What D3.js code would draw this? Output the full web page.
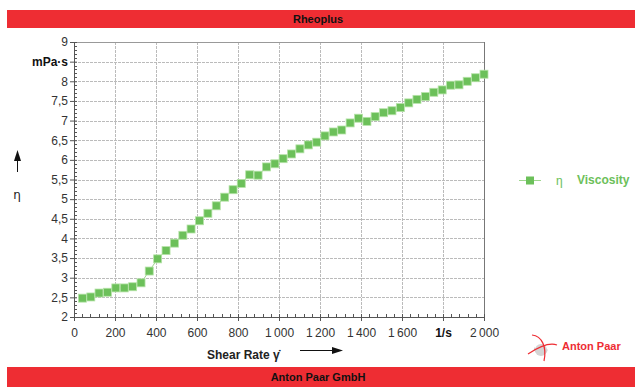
<!DOCTYPE html>
<html>
<head>
<meta charset="utf-8">
<script src="https://cdn.jsdelivr.net/npm/d3@7"></script>
<style>
  body { margin: 0; background: #fff; }
  svg { font-family: "Liberation Sans", Arial, sans-serif; }
</style>
</head>
<body>
<script>
// shear rate [1/s]
var shearRate = [41, 82, 122, 163, 204, 245, 286, 327, 367, 408, 449, 490, 531, 571, 612, 653,
  694, 735, 776, 816, 857, 898, 939, 980, 1020, 1061, 1102, 1143, 1184, 1224, 1265, 1306,
  1347, 1388, 1429, 1469, 1510, 1551, 1592, 1633, 1673, 1714, 1755, 1796, 1837, 1878, 1918, 1959, 2000];
// viscosity [mPa·s]
var viscosity = [2.48, 2.51, 2.61, 2.63, 2.74, 2.74, 2.77, 2.87, 3.17, 3.48, 3.69, 3.88, 4.08, 4.24,
  4.45, 4.64, 4.83, 5.05, 5.24, 5.40, 5.62, 5.61, 5.82, 5.90, 6.03, 6.15, 6.28, 6.38, 6.45, 6.61, 6.71,
  6.76, 6.94, 7.06, 6.98, 7.10, 7.20, 7.25, 7.33, 7.45, 7.54, 7.61, 7.72, 7.78, 7.90, 7.91, 8.00, 8.09, 8.18];

var xTicks = [0, 200, 400, 600, 800, 1000, 1200, 1400, 1600, 1800, 2000];
var yTicks = [2, 2.5, 3, 3.5, 4, 4.5, 5, 5.5, 6, 6.5, 7, 7.5, 8, 8.5, 9];
var xUnitAt = 1800, yUnitAt = 8.5;

var W = 635, H = 387;
var red = "#ee2d33", green = "#6cc05a";

var svg = d3.select("body").append("svg").attr("width", W).attr("height", H);

// header / footer bars
svg.append("rect").attr("x", 7).attr("y", 10).attr("width", W - 7).attr("height", 18).attr("fill", red);
svg.append("text").attr("x", 318).attr("y", 23).attr("text-anchor", "middle")
   .attr("font-size", 11).attr("font-weight", "bold").attr("fill", "#111").text("Rheoplus");
svg.append("rect").attr("x", 7).attr("y", 367).attr("width", W - 7).attr("height", 20).attr("fill", red);
svg.append("text").attr("x", 318).attr("y", 381).attr("text-anchor", "middle")
   .attr("font-size", 11).attr("font-weight", "bold").attr("fill", "#111").text("Anton Paar GmbH");

var x = d3.scaleLinear().domain([0, 2000]).range([74, 484]);
var y = d3.scaleLinear().domain([2, 9]).range([317, 42]);

// grid
var grid = svg.append("g").attr("stroke", "#bbb").attr("stroke-dasharray", "3,1").attr("stroke-width", 1);
xTicks.slice(1, -1).forEach(function(t) {
  grid.append("line").attr("x1", Math.round(x(t)) + 0.5).attr("x2", Math.round(x(t)) + 0.5)
      .attr("y1", y(9)).attr("y2", y(2));
});
yTicks.slice(1, -1).forEach(function(t) {
  grid.append("line").attr("y1", Math.round(y(t)) + 0.5).attr("y2", Math.round(y(t)) + 0.5)
      .attr("x1", x(0)).attr("x2", x(2000));
});
// top and right border
svg.append("line").attr("x1", x(0)).attr("x2", x(2000)).attr("y1", Math.round(y(9)) + 0.5).attr("y2", Math.round(y(9)) + 0.5)
   .attr("stroke", "#999");
svg.append("line").attr("x1", Math.round(x(2000)) + 0.5).attr("x2", Math.round(x(2000)) + 0.5).attr("y1", y(9)).attr("y2", y(2))
   .attr("stroke", "#777");

// axes
var xAxis = svg.append("g").attr("transform", "translate(0," + Math.round(y(2)) + ")")
  .call(d3.axisBottom(x).tickValues(xTicks).tickSizeInner(4).tickSizeOuter(0)
    .tickFormat(function(d) {
      if (d == xUnitAt) return "1/s";
      return d >= 1000 ? Math.floor(d / 1000) + "\u2009" + d3.format("03")(d % 1000) : d;
    }));
var yAxis = svg.append("g").attr("transform", "translate(" + Math.round(x(0)) + ",0)")
  .call(d3.axisLeft(y).tickValues(yTicks).tickSizeInner(4).tickSizeOuter(0)
    .tickFormat(function(d) { return d == yUnitAt ? "mPa\u00b7s" : String(d).replace(".", ","); }));

[xAxis, yAxis].forEach(function(a) {
  a.select(".domain").attr("stroke", "#555");
  a.selectAll(".tick line").attr("stroke", "#555");
  a.selectAll(".tick text").attr("font-size", 12).attr("fill", "#333").attr("font-family", "Liberation Sans, Arial, sans-serif");
});
xAxis.selectAll(".tick text").attr("dy", "1.05em")
  .filter(function(d) { return d == xUnitAt; }).attr("font-weight", "bold").attr("fill", "#111");
yAxis.selectAll(".tick text").attr("x", -6)
  .filter(function(d) { return d == yUnitAt; }).attr("font-weight", "bold").attr("fill", "#111");
// major ticks cross into the plot a little
xAxis.selectAll(".tick line").attr("y1", -3);
yAxis.selectAll(".tick line").attr("x1", 3);

// minor ticks
d3.range(0, 2000, 40).forEach(function(t) {
  if (t % 200 == 0) return;
  svg.append("line").attr("x1", Math.round(x(t)) + 0.5).attr("x2", Math.round(x(t)) + 0.5)
     .attr("y1", y(2) - 3).attr("y2", y(2)).attr("stroke", "#555");
});
d3.range(20, 90).forEach(function(k) {
  if (k % 5 == 0) return;
  var t = k / 10;
  svg.append("line").attr("y1", Math.round(y(t)) + 0.5).attr("y2", Math.round(y(t)) + 0.5)
     .attr("x1", x(0)).attr("x2", x(0) + 3).attr("stroke", "#555");
});

// axis titles
svg.append("text").attr("x", 207).attr("y", 359).attr("font-size", 12).attr("font-weight", "bold")
   .attr("fill", "#222").text("Shear Rate \u03b3\u0307");
svg.append("line").attr("x1", 300).attr("x2", 334).attr("y1", 350.5).attr("y2", 350.5).attr("stroke", "#111");
svg.append("path").attr("d", "M343,350.5 L332,347 L332,354 Z").attr("fill", "#111");

svg.append("text").attr("x", 17).attr("y", 199).attr("text-anchor", "middle").attr("font-size", 12)
   .attr("font-family", "DejaVu Sans").attr("fill", "#222").text("\u03b7");
svg.append("line").attr("x1", 17.5).attr("x2", 17.5).attr("y1", 172).attr("y2", 158).attr("stroke", "#111");
svg.append("path").attr("d", "M17.5,150 L14,161 L21,161 Z").attr("fill", "#111");

// data
var data = shearRate.map(function(s, i) { return { x: s, y: viscosity[i] }; });
svg.append("path").datum(data)
   .attr("d", d3.line().x(function(d) { return x(d.x); }).y(function(d) { return y(d.y); }))
   .attr("fill", "none").attr("stroke", "#9fd68f").attr("stroke-width", 1);
svg.selectAll(".pt").data(data).enter().append("rect").attr("class", "pt")
   .attr("x", function(d) { return x(d.x) - 4; }).attr("y", function(d) { return y(d.y) - 4; })
   .attr("width", 8).attr("height", 8).attr("fill", green).attr("stroke", "#b6e3a8").attr("stroke-width", 0.8);

// legend
var lg = svg.append("g").attr("transform", "translate(519,180)");
lg.append("line").attr("x1", 0).attr("x2", 22).attr("y1", 0.5).attr("y2", 0.5).attr("stroke", "#9fd68f");
lg.append("rect").attr("x", 7).attr("y", -3.5).attr("width", 8).attr("height", 8).attr("fill", green);
lg.append("text").attr("x", 37).attr("y", 5).attr("font-size", 12).attr("fill", green).text("\u03b7");
lg.append("text").attr("x", 58).attr("y", 4).attr("font-size", 12).attr("font-weight", "bold").attr("fill", green).text("Viscosity");

// logo
var logo = svg.append("g").attr("transform", "translate(541,347)");
logo.append("path").attr("d", "M-7,0 A7,7 0 0 0 7,2 L0,8 Z").attr("fill", "#d0d0d0");
logo.append("circle").attr("cx", 0).attr("cy", 3).attr("r", 6).attr("fill", "#d4d4d4");
logo.append("path").attr("d", "M-13,7 C-4,1 8,-5 16,-2").attr("fill", "none").attr("stroke", red).attr("stroke-width", 1.2);
logo.append("path").attr("d", "M-9,-12 C1,-11 6,0 3,14").attr("fill", "none").attr("stroke", red).attr("stroke-width", 1.2);
svg.append("text").attr("x", 562).attr("y", 350).attr("font-size", 11).attr("font-weight", "bold").attr("fill", red).text("Anton Paar");
</script>
</body>
</html>
